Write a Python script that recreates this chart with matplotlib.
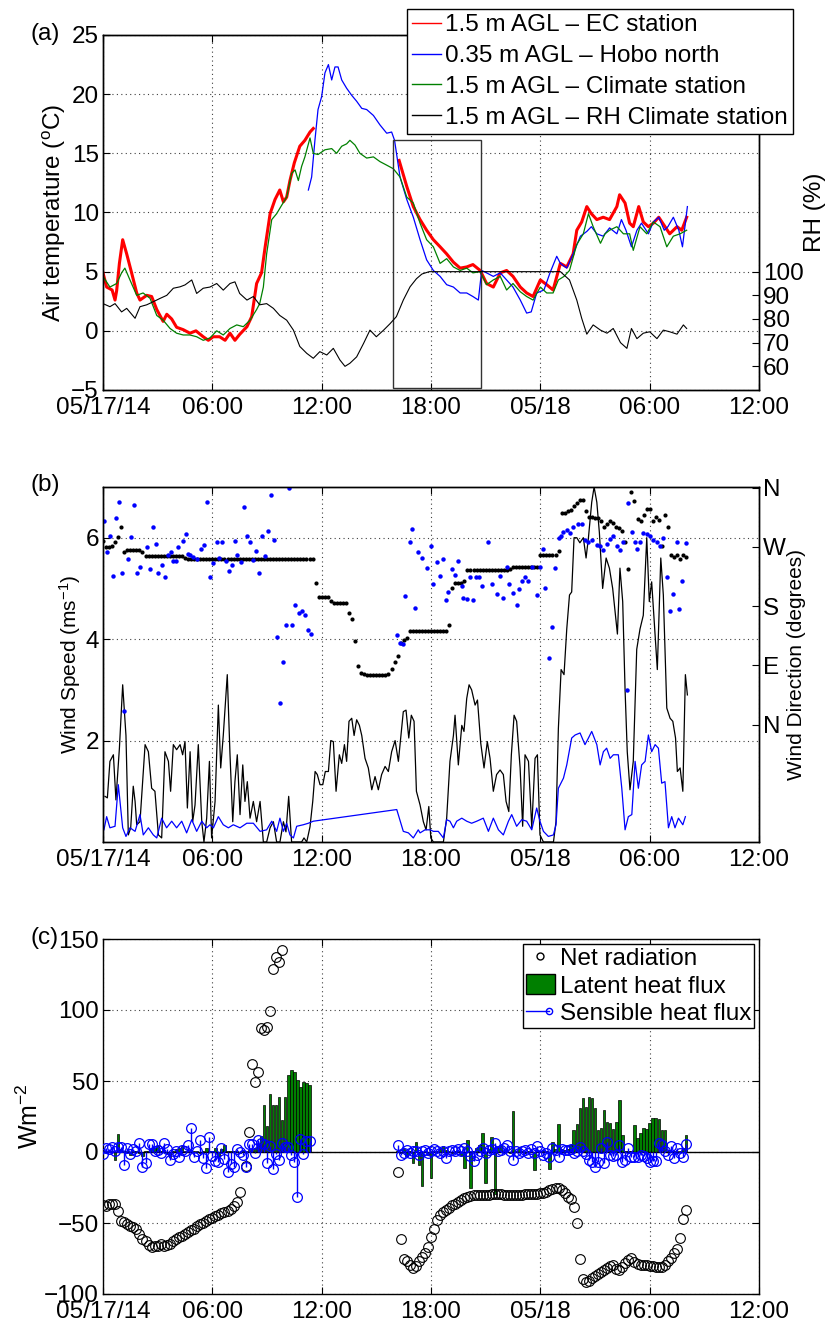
import numpy as np
import matplotlib
matplotlib.use('Agg')
import matplotlib.pyplot as plt
from matplotlib.patches import Rectangle, Patch
from matplotlib.lines import Line2D
from matplotlib.legend_handler import HandlerBase

plt.rcParams['font.family'] = ['Liberation Sans', 'DejaVu Sans']
plt.rcParams['mathtext.fontset'] = 'custom'
plt.rcParams['mathtext.rm'] = 'Liberation Sans'
plt.rcParams['mathtext.it'] = 'Liberation Sans:italic'
plt.rcParams['mathtext.default'] = 'regular'
FS = 17.5

# ---------------- shared time axis (hours since 05/17/14 00:00) ----------------
xtick_hours = [0, 6, 12, 18, 24, 30, 36]
xtick_labels = ['05/17/14', '06:00', '12:00', '18:00', '05/18', '06:00', '12:00']

# ---------------- panel (a): air temperature / RH ----------------
nan = float('nan')
ec_t = [0, 0.2, 0.5, 0.66, 0.75, 0.9, 1.08, 1.3, 1.57, 1.85, 2.03, 2.4, 2.67, 2.95, 3.3, 3.5,
        3.77, 4.04, 4.4, 4.77, 5.1, 5.5, 5.78, 6.05, 6.4, 6.7, 6.97, 7.24, 7.5, 7.9, 8.16, 8.43,
        8.7, 8.9, 9.17, 9.44, 9.7, 9.9, 10.08, 10.26, 10.5, 10.8, 11.08, 11.36, 11.54, 13.9,
        16.25, 16.67, 17.03, 17.4, 17.76, 18.13, 18.5, 18.86, 19.23, 19.6, 19.96, 20.3, 20.7,
        21.05, 21.42, 21.8, 22.15, 22.5, 22.9, 23.25, 23.6, 24.0, 24.35, 24.7, 25.1, 25.45, 25.8,
        26.0, 26.27, 26.55, 26.8, 27.1, 27.45, 27.8, 28.2, 28.35, 28.65, 28.9, 29.1, 29.4, 29.65,
        29.93, 30.2, 30.5, 30.8, 31.1, 31.5, 31.76, 32.03]
ec_temp = [4.9, 3.7, 3.45, 2.6, 3.4, 5.7, 7.7, 6.5, 4.9, 3.2, 2.6, 3.0, 2.9, 1.8, 0.8, 1.4,
           1.0, 0.3, 0.1, -0.2, 0.0, -0.5, -0.8, -0.5, -0.5, -0.8, -0.2, -0.8, -0.3, 0.35, 1.2, 4.0,
           4.9, 7.1, 9.9, 11.1, 11.9, 10.9, 11.3, 12.7, 14.2, 15.6, 16.1, 16.8, 17.1, nan,
           14.4, 12.2, 10.5, 9.4, 8.5, 7.7, 7.1, 6.5, 5.8, 5.3, 5.4, 5.6, 5.1,
           4.0, 3.7, 4.9, 5.1, 4.6, 3.7, 3.2, 2.9, 4.3, 3.9, 3.45, 5.7, 5.4, 6.5,
           8.5, 9.2, 10.5, 9.9, 9.4, 9.6, 9.4, 10.5, 11.5, 10.8, 9.1, 8.8, 10.5, 9.2,
           8.8, 9.1, 9.6, 8.9, 8.2, 8.8, 8.5, 9.6]

hobo_t = [11.27, 11.45, 11.63, 11.8, 12.0, 12.18, 12.37, 12.55, 12.73, 12.9, 13.1, 13.37, 13.65,
          13.92, 14.2, 14.47, 14.84, 15.2, 15.57, 15.84, 16.0, 16.3, 16.67, 17.03, 17.4, 17.76,
          18.13, 18.5, 18.86, 19.23, 19.6, 19.96, 20.3, 20.6, 20.78, 21.05, 21.42, 21.8, 22.15,
          22.5, 22.9, 23.25, 23.5, 23.8, 24.2, 24.53, 24.9, 25.1, 25.45, 25.8, 26.2, 26.55, 26.8,
          27.1, 27.45, 27.8, 28.2, 28.45, 28.7, 29.0, 29.3, 29.55, 29.93, 30.2, 30.5, 30.8, 31.0,
          31.3, 31.6, 31.8, 32.07]
hobo_temp = [11.9, 13.0, 16.1, 18.7, 19.8, 21.8, 22.5, 21.2, 22.3, 22.3, 21.2, 20.5, 19.9,
             19.4, 18.8, 18.7, 18.2, 17.4, 16.7, 16.8, 16.1, 13.0, 11.1, 9.6, 7.7, 6.0,
             5.1, 4.6, 3.9, 3.7, 3.2, 3.2, 2.9, 2.6, 5.1, 4.9, 4.6, 4.9, 4.3,
             3.7, 2.6, 1.5, 1.6, 3.2, 3.45, 4.9, 6.3, 5.7, 5.3, 6.5, 8.0, 8.4, 8.8,
             8.2, 8.0, 8.7, 8.2, 9.4, 8.5, 7.1, 8.5, 9.1, 8.2, 9.2, 9.6, 8.5, 8.8,
             9.6, 8.5, 7.1, 10.5]

clim_t = [0, 0.38, 0.75, 1.02, 1.2, 1.48, 1.85, 2.2, 2.58, 2.95, 3.3, 3.68, 4.04, 4.4, 4.77,
          5.14, 5.5, 5.87, 6.24, 6.6, 6.97, 7.34, 7.7, 8.07, 8.43, 8.6, 8.8, 8.98, 9.26, 9.53,
          9.8, 10.08, 10.35, 10.54, 10.72, 10.9, 11.08, 11.36, 11.54, 11.8, 12.18, 12.55, 12.82,
          13.1, 13.37, 13.55, 13.83, 14.1, 14.47, 14.84, 15.2, 15.57, 15.93, 16.3, 16.67, 17.03,
          17.4, 17.76, 18.13, 18.5, 18.86, 19.23, 19.6, 19.96, 20.3, 20.7, 21.05, 21.42, 21.8,
          22.15, 22.5, 22.9, 23.25, 23.6, 24.0, 24.35, 24.7, 24.99, 25.3, 25.6, 26.0, 26.36,
          26.64, 26.9, 27.3, 27.55, 27.8, 28.2, 28.56, 28.9, 29.1, 29.47, 29.84, 30.2, 30.57,
          30.94, 31.3, 31.67, 32.03]
clim_temp = [4.6, 3.7, 4.0, 4.9, 5.3, 4.3, 3.0, 3.2, 2.75, 1.3, 0.9, 0.2, -0.2, -0.35, -0.35,
             -0.5, -0.8, -0.6, 0.0, -0.35, 0.2, 0.5, 0.35, 0.9, 1.8, 2.3, 3.7, 6.5, 9.4, 9.9,
             10.6, 11.3, 13.3, 13.6, 12.7, 13.9, 14.7, 16.3, 15.0, 14.9, 15.3, 15.4, 15.0,
             15.6, 15.8, 16.1, 15.7, 15.0, 14.6, 14.7, 14.3, 14.0, 13.7, 13.0, 11.3, 10.8,
             9.1, 7.7, 7.1, 5.7, 6.1, 5.4, 5.1, 5.3, 4.9, 5.0, 3.9, 4.3, 4.6,
             3.45, 4.0, 3.3, 2.9, 2.6, 3.7, 3.2, 3.2, 4.3, 4.6, 5.1, 7.3, 8.2,
             9.9, 8.8, 7.4, 8.2, 8.5, 8.8, 8.2, 8.2, 6.8, 8.8, 8.2, 9.2, 8.8,
             7.1, 8.0, 8.2, 8.5]

rh_t = [0, 0.38, 0.66, 1.02, 1.3, 1.76, 2.03, 2.4, 2.76, 3.13, 3.5, 3.86, 4.23, 4.5, 4.87, 5.14,
        5.5, 5.87, 6.24, 6.6, 6.97, 7.24, 7.5, 7.9, 8.25, 8.6, 8.98, 9.35, 9.7, 10.08, 10.45,
        10.8, 11.18, 11.54, 11.9, 12.28, 12.64, 13.0, 13.28, 13.55, 13.92, 14.3, 14.65, 15.0,
        15.4, 15.75, 16.1, 16.48, 16.85, 17.2, 17.5, 17.9, 25.1, 25.6, 26.0, 26.27, 26.55, 26.9,
        27.3, 27.66, 28.0, 28.4, 28.75, 29.0, 29.3, 29.65, 30.0, 30.4, 30.75, 31.1, 31.5, 31.85,
        32.03]
rh_val = [86.5, 85.2, 86.5, 83, 84.5, 80.3, 85.2, 86, 87.3, 88.7, 90, 93, 93.6, 94.4, 96.5, 90.8,
          93, 93.5, 95, 92.2, 95, 95.7, 90.8, 88, 89.5, 86, 86.5, 84.5, 81.5, 79.5, 75.3,
          68.4, 65.5, 63.4, 66.2, 64.8, 67.6, 62.7, 60, 61.3, 64, 69.7, 75.3, 72.5,
          75.3, 78, 81, 88, 93.6, 97, 99, 100, 100, 96.5, 88, 80.3, 73.6, 77.5,
          75.3, 74, 76, 70, 67.6, 76, 71.7, 74, 74.6, 71.7, 75.3, 74.6, 73.6, 77.5,
          76]

box_hours = (15.9, 20.75)
box_temp = (-4.8, 16.1)

# ---------------- panel (b): wind speed / direction ----------------
ws_ec_t = [0.11, 0.24, 0.38, 0.57, 0.71, 0.9, 1.08, 1.26, 1.39, 1.52, 1.66, 1.76, 1.85, 2.03, 2.31,
           2.49, 2.67, 2.85, 3.04, 3.22, 3.4, 3.59, 3.71, 3.86, 4.04, 4.23, 4.37, 4.5, 4.63, 4.78,
           4.92, 5.05, 5.23, 5.42, 5.54, 5.69, 5.84, 5.96, 6.15, 6.33, 6.46, 6.6, 6.82, 6.97,
           7.12, 7.24, 7.37, 7.52, 7.67, 7.79, 7.92, 8.07, 8.25, 8.43, 8.62, 8.8, 8.98, 9.17,
           9.35, 9.53, 9.71, 9.9, 10.04, 10.19, 10.35, 10.54, 10.72, 10.9, 11.03, 11.18, 11.36,
           11.51, 11.64, 11.76, 11.91, 12.06, 12.2, 12.37, 12.5, 12.64, 12.79, 12.97, 13.1, 13.25,
           13.37, 13.5, 13.65, 13.78, 13.92, 14.07, 14.2, 14.38, 14.56, 14.75, 14.93, 15.11,
           15.29, 15.48, 15.66, 15.84, 16.03, 16.21,
           16.48, 16.63, 16.78, 16.92, 17.07, 17.2, 17.4, 17.58, 17.73, 17.88, 17.99, 18.13, 18.4,
           18.68, 18.86, 19.04, 19.23, 19.32, 19.5, 19.69, 19.81, 19.96, 20.09, 20.23, 20.42,
           20.55, 20.73, 20.91, 21.09, 21.24, 21.42, 21.6, 21.79, 21.97, 22.12, 22.27, 22.41,
           22.56, 22.7, 22.89, 23.03, 23.16, 23.35, 23.53, 23.71, 23.84, 23.98, 24.17, 24.35,
           24.53, 24.72, 24.86, 24.99, 25.14, 25.3, 25.45, 25.6, 25.72, 25.85, 26.0, 26.17,
           26.36, 26.51, 26.64, 26.82, 26.95, 27.1, 27.24, 27.42, 27.61, 27.79, 27.97, 28.1,
           28.23, 28.37, 28.52, 28.65, 28.77, 28.92, 29.1, 29.29, 29.47, 29.65, 29.84, 29.98,
           30.11, 30.26, 30.42, 30.61, 30.75, 30.94, 31.12, 31.27, 31.42, 31.52, 31.67, 31.82,
           31.96, 32.07]
ws_ec = [0.9, 0.87, 1.59, 1.72, 0.83, 1.85, 3.1, 2.1, 0.14, 0.28, 1.1, 0.8, 0.34, 0.4, 1.92,
         1.78, 1.06, 1.0, 0.14, 0.08, 1.78, 1.59, 1.0, 1.92, 1.82, 1.92, 1.72, 1.98, 0.67, 1.78,
         0.4, 0.73, 1.92, 0.4, 0, 0.47, 1.59, 0.08, 0.8, 2.7, 1.46, 2.1, 3.3, 1.72,
         0.4, 1.19, 1.72, 0.54, 1.52, 0.8, 1.19, 0.47, 0.8, 0.4, 0.8, 0, 0, 0.28,
         0.4, 0, 0, 0.4, 0.2, 0.9, 0, 0, 0, 0, 0.08, 0, 0.3,
         0.8, 1.39, 1.33, 1.13, 1.13, 1.39, 1.39, 2.0, 1.98, 1.0, 1.72, 1.55, 1.92,
         1.59, 2.38, 2.44, 2.1, 2.41, 2.3, 2.1, 1.65, 1.46, 1.03, 1.29, 1.03,
         1.33, 1.49, 1.39, 1.78, 2.0, 1.59,
         2.57, 2.6, 2.05, 2.5, 2.38, 1.0, 0.73, 0.4, 0.24, 0.7, 0.08, 0, 0,
         0, 0.47, 1.59, 2.1, 2.5, 1.52, 2.3, 2.18, 2.83, 3.1, 3.0, 2.7,
         2.8, 1.95, 1.46, 1.98, 1.65, 1.0, 1.33, 1.42, 1.33, 0.8, 0.6, 1.72,
         2.5, 2.38, 1.46, 0.31, 1.72, 1.59, 0.28, 1.65, 1.72, 0.14, 0, 0,
         0, 0, 0.4, 2.24, 3.4, 3.3, 4.2, 4.87, 4.93, 6.0, 6.0, 5.9,
         6.0, 5.6, 6.0, 6.7, 7.0, 6.7, 6.1, 5.0, 5.6, 5.4, 5.0, 4.54,
         4.1, 5.4, 4.74, 3.0, 1.78, 1.03, 1.59, 3.8, 4.2, 4.47, 6.0, 4.74,
         5.13, 4.28, 3.4, 5.6, 4.87, 2.64, 2.44, 2.38, 2.05, 1.39, 1.46, 1.0,
         3.3, 2.9]

ws_hobo_t = [0.05, 0.2, 0.38, 0.66, 0.84, 1.08, 1.26, 1.48, 1.76, 2.03, 2.21, 2.49, 2.76, 2.95,
             3.22, 3.49, 3.77, 4.04, 4.32, 4.59, 4.87, 5.14, 5.42, 5.69, 5.87, 6.06, 6.33, 6.6,
             6.88, 7.15, 7.52, 7.89, 8.25, 8.62, 8.98, 9.26, 9.53, 9.71, 9.9, 10.08, 10.26,
             10.45, 10.63, 10.99, 11.27, 11.54, 16.12, 16.48, 16.76, 17.03, 17.3,
             17.4, 17.67, 17.95, 18.13, 18.4, 18.68, 18.86, 19.04, 19.23, 19.41, 19.69, 19.96,
             20.23, 20.51, 20.87, 21.15, 21.42, 21.7, 21.97, 22.25, 22.43, 22.7, 22.98, 23.25,
             23.53, 23.8, 23.98, 24.17, 24.44, 24.72, 24.86, 24.99, 25.27, 25.45, 25.72, 25.91,
             26.18, 26.45, 26.64, 26.82, 27.1, 27.28, 27.46, 27.64, 27.83, 28.01, 28.28, 28.47,
             28.65, 28.83, 29.02, 29.2, 29.38, 29.56, 29.75, 29.93, 30.11, 30.3, 30.48, 30.66,
             30.84, 31.03, 31.21, 31.39, 31.58, 31.82, 31.96]
ws_hobo = [0.24, 0.5, 0.28, 0.31, 1.13, 0.28, 0.11, 0.28, 0.21, 0.54, 0.14, 0.28, 0.14, 0.08,
           0.47, 0.28, 0.41, 0.28, 0.41, 0.18, 0.44, 0.21, 0.41, 0.28, 0.34, 0.28, 0.5, 0.34,
           0.28, 0.34, 0.28, 0.37, 0.37, 0.21, 0.24, 0.41, 0.21, 0.47, 0.21, 0.37, 0.14,
           0.08, 0.31, 0.34, 0.37, 0.41, 0.64, 0.21, 0.18, 0.08, 0.24,
           0.18, 0.24, 0.24, 0.21, 0.21, 0.08, 0.44, 0.41, 0.28, 0.41, 0.47, 0.41,
           0.37, 0.41, 0.47, 0.21, 0.47, 0.24, 0.14, 0.41, 0.54, 0.31, 0.44, 0.41,
           0.24, 0.67, 0.41, 0.21, 0.11, 0.14, 0.34, 1.06, 1.26, 1.52, 2.05, 2.11,
           2.15, 1.92, 2.05, 2.18, 1.92, 1.52, 1.78, 1.85, 1.65, 1.72, 1.72, 1.06,
           0.24, 0.5, 0.54, 1.59, 1.06, 1.52, 1.59, 2.11, 1.78, 1.92, 1.85, 1.16,
           1.19, 0.28, 0.5, 0.28, 0.47, 0.34, 0.5]

# EC wind direction, one value every 10 minutes from 00:00 on 05/17 (degrees)
wd_step_h = 1.0 / 6.0
wd_ec = [279, 270, 270, 271, 278, 285,
         300, 262, 266, 266, 266, 266,
         266, 262, 256, 256, 256, 256,
         256, 256, 256, 256, 256, 256,
         256, 256, 256, 253, 251, 251,
         251, 251, 251, 251, 251, 251,
         251, 251, 251, 251, 251, 251,
         251, 251, 251, 251, 251, 251,
         251, 251, 251, 251, 251, 251,
         251, 251, 251, 251, 251, 251,
         251, 251, 251, 251, 251, 251,
         251, 251, 251, 251, 215, 194,
         194, 194, 194, 188, 185, 185,
         185, 185, 185, 170, 160, 127,
         89, 78, 77, 76, 76, 76,
         76, 76, 76, 76, 77, 84,
         95, 104, 124, 129, 132, 142,
         142, 142, 142, 142, 142, 142,
         143, 143, 143, 143, 143, 143,
         152, 208, 215, 215, 215, 218,
         235, 235, 235, 235, 235, 235,
         235, 235, 235, 235, 235, 235,
         235, 235, 236, 239, 239, 239,
         239, 239, 239, 239, 239, 239,
         257, 257, 257, 257, 257, 257,
         264, 321, 321, 324, 326, 332,
         337, 342, 342, 324, 316, 316,
         314, 314, 309, 300, 305, 309,
         307, 301, 298, 294, 278, 236,
         353, 340, 312, 310, 318, 327,
         327, 310, 316, 311, 271, 319,
         301, 258, 255, 257, 252, 258,
         254]

wd_hobo_t = [0.05, 0.2, 0.38, 0.57, 0.71, 0.9, 1.02, 1.17, 1.39, 1.54, 1.72, 1.88, 2.03, 2.4, 2.58,
             2.73, 2.89, 3.04, 3.22, 3.4, 3.59, 3.71, 3.86, 4.0, 4.13, 4.37, 4.54, 4.65, 4.78,
             4.92, 5.14, 5.38, 5.54, 5.73, 5.89, 6.06, 6.24, 6.38, 6.55, 6.73, 6.9, 7.06, 7.24,
             7.37, 7.56, 7.72, 7.89, 8.07, 8.21, 8.38, 8.54, 8.71, 8.89, 9.07, 9.22, 9.39, 9.53,
             9.71, 9.86, 10.04, 10.23, 10.39, 10.56, 10.76, 10.9, 11.09, 11.25, 11.4, 16.12,
             16.3, 16.48, 16.57, 16.85, 16.94, 17.12, 17.3, 17.49, 17.76, 17.98, 18.13, 18.31,
             18.5, 18.64, 18.81, 18.95, 19.14, 19.32, 19.5, 19.69, 19.78, 19.96, 20.14, 20.32,
             20.47, 20.65, 20.78, 21.15, 21.33, 21.6, 21.79, 21.97, 22.15, 22.3, 22.52, 22.7,
             22.85, 22.98, 23.16, 23.35, 23.53, 23.8, 23.98, 24.17, 24.26, 24.48, 24.63, 24.81,
             25.0, 25.12, 25.27, 25.45, 25.63, 25.82, 26.09, 26.27, 26.46, 26.64, 26.82, 27.09,
             27.28, 27.46, 27.64, 27.83, 28.01, 28.19, 28.38, 28.56, 28.74, 28.83, 29.02, 29.2,
             29.33, 29.47, 29.66, 29.84, 30.02, 30.2, 30.39, 30.57, 30.75, 30.94, 31.12, 31.3,
             31.49, 31.63, 31.8, 31.98]
wd_hobo = [310, 263, 286, 226, 314, 338, 230, 21, 252, 285, 334, 230, 240, 270, 236,
           300, 275, 231, 243, 225, 258, 263, 248, 248, 270, 279, 289, 260, 258,
           255, 252, 267, 273, 338, 225, 246, 277, 253, 277, 248, 234, 243, 279,
           257, 247, 330, 286, 278, 250, 264, 230, 286, 256, 294, 349, 280, 133,
           33, 95, 152, 359, 151, 182, 170, 172, 166, 144, 138, 136,
           124, 122, 195, 278, 297, 178, 262, 253, 238, 271, 213, 247,
           226, 251, 190, 202, 236, 228, 249, 211, 192, 191, 224, 189,
           224, 224, 211, 278, 213, 199, 226, 192, 240, 213, 200, 182,
           206, 218, 224, 218, 240, 197, 240, 267, 208, 101, 149, 238,
           284, 287, 292, 295, 291, 300, 305, 305, 280, 278, 281, 273,
           272, 266, 275, 282, 286, 271, 266, 278, 53, 337, 292, 278,
           267, 278, 291, 289, 286, 280, 278, 272, 284, 225, 172, 199,
           277, 176, 218, 276]

dir_ticks = [0, 90, 180, 270, 360]
dir_labels = ['N', 'E', 'S', 'W', 'N']

# ---------------- panel (c): energy fluxes (10-minute data) ----------------
flux_step_h = 1.0 / 6.0
seg1_start_h = 0.0
seg2_start_h = 16.0 + 1.0 / 6.0

net_rad_1 = [-37.3, -37.8, -36.6, -36.6, -36.6, -41.5,
             -48.6, -49, -51, -52, -53, -54.5,
             -58, -61.5, -63, -65.5, -67, -66.5,
             -66, -65, -66, -65.5, -64.5, -62.5,
             -61, -60, -59, -58, -56.6, -55,
             -54, -52.3, -51, -49.8, -48.6, -47.5,
             -46.3, -45.2, -44.2, -43.2, -42.5, -41.5,
             -40, -38, -35, -28.5, nan, -10,
             14, 62, 49, 56, 87.5, 86,
             88, 99, 129, 137, 134, 142]
net_rad_2 = [-14, -61.5, -75.5, -77, -79.5, -82,
             -80, -77, -74, -71, -67, -60,
             -54, -48, -44.5, -42, -41, -39.5,
             -37.5, -36.5, -35, -33.5, -32.5, -31.5,
             -31, -30.5, -30.3, -30.3, -30.3, -30.3,
             -30, -29.8, -29.6, -29.6, -29.8, -30,
             -30.3, -30.3, -30.3, -30.3, -30.2, -30,
             -29.8, -29.6, -29.6, -29.5, -29.3, -29,
             -28.6, -28, -27, -25.8, -25, -25.5,
             -27, -29, -31.5, -33, -38.5, -50,
             -75.5, -89.5, -91.3, -90.5, -89, -87.5,
             -86, -84.5, -83, -82, -80.5, -79.6,
             -82.6, -83, -81, -78.5, -76, -74.5,
             -77.5, -79, -79.6, -79.6, -79.8, -80.2,
             -80.5, -80.8, -81, -80.8, -79.5, -77,
             -74.5, -71, -68.5, -60.5, -47, -40.5]

latent_1 = [0.5, 1, 0.5, 1, -5.4, 12.7,
            2, 1, 0.5, -2, 1, 0.5,
            -1, -3, 0.5, 1, 2, 3,
            4, 1, 0.5, -1, -3.5, 1,
            2, 3, 4, 1, 0.5, 1.5,
            1, 0.5, -1, 0.5, 3, 1,
            0.5, 3, -2.6, 2, 5, 0.5,
            1, 0.5, 1, -1, 0.5, 1,
            1.5, 1.5, 3, 5, 11, 33,
            18, 41, 33, 33, 39, 22.5,
            39, 54, 58, 56.5, 51, 45.5,
            49.5, 48.8, 47.4]
latent_2 = [1, -1, 2, -3, 1, -8,
            7, -9, -24, 1, -2, -18,
            1, 0.5, 2, 4, 1.5, 0.5,
            -1, 0.5, 1, -2, -11.5, 8.5,
            -25, 1, 3, 5, 13.6, -21.6,
            2, 10.3, -29.6, 3, 5, 1,
            0.5, -1, 29, 1, 3.8, 1,
            -1, 0.5, 1, -12.5, 1, 0.5,
            1, 0.5, -12, 7.3, 2, 20,
            2, 1.5, 2, 5, 15.5, 20,
            30.8, 37.8, 32, 38.5, 37.8, 30.8,
            15.5, 16.7, 29.6, 21.4, 20.2, 16,
            21.4, 36.6, 12, 0.5, 1, 0.5,
            19, 9.6, 13.6, 16.7, 16, 20.2,
            24.2, 23.7, 23, 15.5, 15.5, 1,
            0.5, 1, 0.5, 1, 2.6, 12]

sensible_1 = [-1.4, 2.6, 1.9, 3.8, 1, 3.3,
              3.3, -8.9, 2.6, -1.4, 1.9, 0.5,
              6.6, -10.6, -7.5, 5.4, 5.4, 0.9,
              1.4, -0.5, 6.6, 1.9, -5.6, -1.6,
              0.9, -3.3, 1.4, 0.9, 4.9, 16.7,
              -3.8, 0.7, 8.5, -4.5, -11.5, 10.8,
              -2.8, -6.3, -7, 2.6, -4.7, -13.8,
              -8.5, -10.3, 1.9, 0.2, -2.1, -10.3,
              5.6, 5.6, -0.5, 8.5, 6.6, 5.6,
              -7.5, 4.2, -12.2, -1.4, -5.6, 6.1,
              3.8, 3.8, -2.1, -6.8, -31.5, 8.9,
              -1.4, 8.0, 7.7]
sensible_2 = [5, -2, -1, 1.4, -1, 0.5,
              1, -2, 0.5, 1.5, -1, 0.5,
              2, 1, -1, 0.5, -4, 1,
              1.5, 0.5, 2, 1, 2.5, 1,
              -3, -6.6, -2, 0.5, 2.6, -1,
              1.5, 2, 6, 1, 1.5, 2.5,
              5, 1, -5.4, 0.5, -1, 1,
              1.5, -1, 2, -1, 4.5, 1,
              -2, -1, -3.8, 2.6, 1.5, -3.8,
              1.9, 1.4, 1.5, 1.9, -0.5, 1,
              3.3, 1, -1.4, -5.6, -6.8, -10.8,
              -6.8, 2.6, -8, 7.3, -2, -2.8,
              -2, 5, -6.8, -5.6, 2.6, -3.3,
              -3.3, -3.3, -2, -2.8, -4, -6.8,
              -6.1, -6.1, 6.1, 5, 1, -2,
              4.2, -4.5, 2.6, -0.9, -3.8, 5.6]

# ---------------- figure ----------------
fig = plt.figure(figsize=(8.27, 13.24), dpi=100)
L, W, H = 103 / 827, 656 / 827, 355 / 1324
ax_a = fig.add_axes([L, 1 - 390 / 1324, W, H])
ax_b = fig.add_axes([L, 1 - 842 / 1324, W, H])
ax_c = fig.add_axes([L, 1 - 1294 / 1324, W, H])

GRID = dict(linestyle=(0, (1, 3)), color='0.25', linewidth=0.8)


def style(ax):
    ax.set_xlim(0, 36)
    ax.set_xticks(xtick_hours)
    ax.set_xticklabels(xtick_labels)
    ax.tick_params(direction='in', length=5, width=0.8, top=True, right=True,
                   labelsize=FS)
    ax.tick_params(axis='x', pad=5)
    ax.tick_params(axis='y', pad=3)
    ax.grid(True, **GRID)
    for s in ax.spines.values():
        s.set_linewidth(1.0)


def style_twin(ax2):
    ax2.tick_params(direction='in', length=5, width=0.8, labelsize=FS, pad=3)
    for s in ax2.spines.values():
        s.set_linewidth(1.0)


# ---- (a)
ax = ax_a
style(ax)
l_ec, = ax.plot(ec_t, ec_temp, color='#ff0000', lw=2.2)
l_hobo, = ax.plot(hobo_t, hobo_temp, color='#0000ff', lw=0.9)
l_clim, = ax.plot(clim_t, clim_temp, color='#008000', lw=0.9)
ax.set_ylim(-5, 25)
ax.set_yticks([-5, 0, 5, 10, 15, 20, 25])
ax.add_patch(Rectangle((box_hours[0], box_temp[0]), box_hours[1] - box_hours[0],
                       box_temp[1] - box_temp[0], fill=False, edgecolor='0.2', lw=1.0, zorder=5))
ax.set_ylabel('Air temperature ($^{o}$C)', fontsize=FS)
ax.yaxis.set_label_coords(-0.053, 0.5)
ax2 = ax.twinx()
style_twin(ax2)
l_rh, = ax2.plot(rh_t, rh_val, color='k', lw=0.8)
ax2.set_ylim(50, 200)
ax2.set_yticks([60, 70, 80, 90, 100])
ax2.set_ylabel('RH (%)', fontsize=FS)
ax2.yaxis.set_label_coords(1.068, 0.5)
leg = ax2.legend([l_ec, l_hobo, l_clim, l_rh],
                 ['1.5 m AGL \u2013 EC station', '0.35 m AGL \u2013 Hobo north',
                  '1.5 m AGL \u2013 Climate station', '1.5 m AGL \u2013 RH Climate station'],
                 loc='upper right', bbox_to_anchor=(793 / 827, 1 - 9 / 1324),
                 bbox_transform=fig.transFigure, fontsize=FS, fancybox=False,
                 framealpha=1, edgecolor='k', borderpad=0.22, labelspacing=0.36,
                 handlelength=1.2, handletextpad=0.15, borderaxespad=0)
leg.get_frame().set_linewidth(1.0)
for ln in leg.get_lines():
    ln.set_linewidth(1.0)
leg.set_zorder(20)

# ---- (b)
ax = ax_b
style(ax)
ax.plot(ws_ec_t, ws_ec, color='k', lw=0.9)
ax.plot(ws_hobo_t, ws_hobo, color='#0000ff', lw=0.9)
ax.set_ylim(0, 7)
ax.set_yticks([2, 4, 6])
ax.set_ylabel('Wind Speed (ms$^{-1}$)', fontsize=15)
ax.yaxis.set_label_coords(-0.030, 0.5)
ax2 = ax.twinx()
style_twin(ax2)
wd_ec_t = np.arange(len(wd_ec)) * wd_step_h
ax2.plot(wd_ec_t, wd_ec, 'o', color='k', ms=3.0, mew=0)
ax2.plot(wd_hobo_t, wd_hobo, 'o', color='#0000ff', ms=3.2, mew=0)
ax2.set_ylim(-178, 361)
ax2.set_yticks(dir_ticks)
ax2.set_yticklabels(dir_labels)
ax2.set_ylabel('Wind Direction (degrees)', fontsize=15)
ax2.yaxis.set_label_coords(1.042, 0.5)

# ---- (c)
ax = ax_c
style(ax)
t1_net = seg1_start_h + np.arange(len(net_rad_1)) * flux_step_h
t2_net = seg2_start_h + np.arange(len(net_rad_2)) * flux_step_h
t1_flx = seg1_start_h + np.arange(len(latent_1)) * flux_step_h
t2_flx = seg2_start_h + np.arange(len(latent_2)) * flux_step_h
t_flx = np.concatenate([t1_flx, t2_flx])
latent = np.concatenate([latent_1, latent_2])
sensible = np.concatenate([sensible_1, sensible_2])
t_net = np.concatenate([t1_net, t2_net])
net_rad = np.concatenate([net_rad_1, net_rad_2])

ax.plot(t_net, net_rad, 'o', mfc='none', mec='k', ms=7, mew=0.8, zorder=3)
ax.bar(t_flx, latent, width=0.14, color='#007f00', edgecolor='k', linewidth=0.5, zorder=2)
ax.axhline(0, color='k', lw=1.0, zorder=2.5)
ax.vlines(t_flx, 0, sensible, color='#0000ff', lw=1.0, zorder=4)
ax.plot(t_flx, sensible, 'o', mfc='none', mec='#0000ff', ms=7, mew=0.9, zorder=4)
ax.set_ylim(-100, 150)
ax.set_yticks([-100, -50, 0, 50, 100, 150])
ax.set_ylabel('Wm$^{-2}$', fontsize=18)
ax.yaxis.set_label_coords(-0.092, 0.5)


class StemHandler(HandlerBase):
    def create_artists(self, legend, orig_handle, xdescent, ydescent, width, height,
                       fontsize, trans):
        y = (height - ydescent) / 2
        x0, x1 = -xdescent, -xdescent + width * 0.8
        line = Line2D([x0, x1], [y, y], color='#0000ff', lw=1.0)
        mk = Line2D([x1], [y], marker='o', mfc='none', mec='#0000ff', ms=4.5, mew=1.0,
                    ls='none')
        line.set_transform(trans)
        mk.set_transform(trans)
        return [line, mk]


stem_h = Line2D([], [], color='#0000ff')
net_h = Line2D([], [], marker='o', ls='none', mfc='none', mec='k', ms=5)
lat_h = Patch(facecolor='#007f00', edgecolor='k', linewidth=1.0)
leg_c = ax.legend([net_h, lat_h, stem_h], ['Net radiation', 'Latent heat flux', 'Sensible heat flux'],
                  handler_map={stem_h: StemHandler()},
                  loc='upper right', bbox_to_anchor=(754 / 827, 1 - 944 / 1324),
                  bbox_transform=fig.transFigure, fontsize=FS, fancybox=False,
                  framealpha=1, edgecolor='k', borderpad=0.12, labelspacing=0.18,
                  handlelength=1.2, handleheight=0.85, handletextpad=0.2, borderaxespad=0)
leg_c.get_frame().set_linewidth(1.0)

# panel letters
for lab, yc in [('(a)', 34), ('(b)', 485), ('(c)', 938)]:
    fig.text(31 / 827, 1 - yc / 1324, lab, fontsize=FS, ha='left', va='center')

fig.savefig('out.png', dpi=100)
